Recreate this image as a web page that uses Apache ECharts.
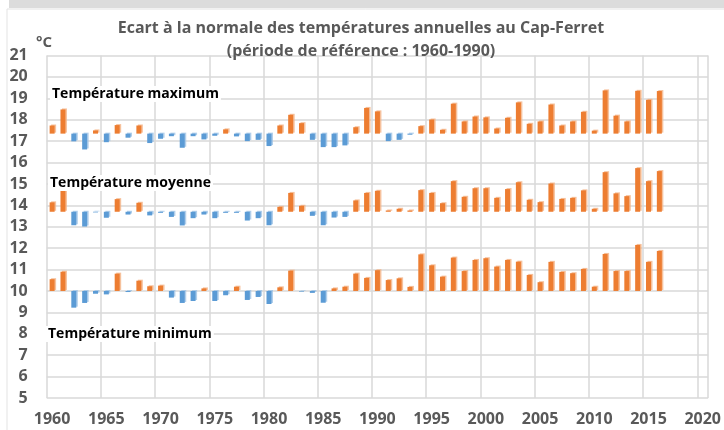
<!DOCTYPE html>
<html>
<head>
<meta charset="utf-8">
<script src="https://cdn.jsdelivr.net/npm/echarts@6/dist/echarts.min.js"></script>
<style>
html,body{margin:0;padding:0;background:#fff;}
#chart{width:724px;height:430px;}
</style>
</head>
<body>
<div id="chart"></div>
<script>
// axis categories: one band per year, 1960 to 2020
const years = [];
for (let y = 1960; y <= 2020; y++) years.push(String(y));

// annual temperatures (°C), 1960 to 2016
const tMax = [17.73,18.48,16.99,16.61,17.50,16.95,17.75,17.16,17.73,16.91,
              17.11,17.23,16.69,17.23,17.08,17.25,17.55,17.22,17.00,17.06,
              16.77,17.73,18.23,17.84,17.06,16.72,16.72,16.80,17.65,18.55,
              18.39,17.00,17.06,17.30,17.70,18.01,17.53,18.75,17.92,18.15,
              18.11,17.59,18.09,18.81,17.81,17.92,18.71,17.73,17.92,18.37,
              17.49,19.37,18.19,17.92,19.35,18.93,19.34];
const tMoy = [14.14,14.68,13.07,13.01,13.67,13.42,14.29,13.57,14.12,13.53,
              13.65,13.46,13.06,13.40,13.57,13.40,13.65,13.65,13.29,13.40,
              13.07,13.93,14.58,13.98,13.51,13.07,13.43,13.46,14.23,14.58,
              14.68,13.76,13.84,13.76,14.71,14.58,14.10,15.13,14.40,14.80,
              14.80,14.35,14.76,15.08,14.26,14.15,15.02,14.30,14.35,14.70,
              13.84,15.55,14.56,14.43,15.74,15.13,15.60];
const tMin = [10.55,10.90,9.22,9.44,9.87,9.84,10.81,9.95,10.48,10.22,
              10.25,9.69,9.44,9.53,10.12,9.53,9.80,10.20,9.58,9.72,
              9.39,10.17,10.95,9.97,9.91,9.45,10.12,10.20,10.81,10.61,
              10.97,10.51,10.59,10.19,11.71,11.20,10.67,11.56,10.93,11.45,
              11.53,11.14,11.45,11.37,10.75,10.41,11.36,10.89,10.83,11.03,
              10.20,11.73,10.93,10.93,12.15,11.36,11.87];
// reference normals (1960-1990)
const normalMax = 17.35, normalMoy = 13.70, normalMin = 10.00;

const ORANGE = '#ED7D31', BLUE = '#5B9BD5';
const FONT = 'Open Sans';

function buildSeries(name, values, normal) {
  const base = values.map(v => Math.min(v, normal));
  const delta = values.map(v => ({
    value: Math.abs(v - normal),
    itemStyle: {
      color: v >= normal ? ORANGE : BLUE,
      shadowColor: v >= normal ? 'rgba(244,177,131,0.8)' : 'rgba(157,195,230,0.8)',
      shadowOffsetX: 1.5, shadowOffsetY: -1, shadowBlur: 0
    }
  }));
  return [
    { name: name + '_base', type: 'bar', stack: name, data: base, barWidth: 5, barGap: '-100%',
      itemStyle: { color: 'rgba(0,0,0,0)' }, silent: true },
    { name: name, type: 'bar', stack: name, data: delta, barWidth: 5, barGap: '-100%' }
  ];
}

function seriesLabel(text, left, top) {
  return {
    type: 'text', left: left, top: top, z: 10,
    style: {
      text: text, fontFamily: FONT, fontWeight: 'bold', fontSize: 14, fill: '#000',
      backgroundColor: '#fff', padding: [1, 2, 1, 2]
    }
  };
}

const chart = echarts.init(document.getElementById('chart'), null, { renderer: 'canvas' });
chart.setOption({
  animation: false,
  backgroundColor: '#fff',
  textStyle: { fontFamily: FONT },
  title: {
    text: 'Ecart à la normale des températures annuelles au Cap-Ferret\n(période de référence : 1960-1990)',
    left: 356, top: 12, textAlign: 'center',
    textStyle: { fontFamily: FONT, fontWeight: 'bold', fontSize: 16, color: '#595959', lineHeight: 23 }
  },
  grid: { left: 46.7, right: 14, top: 55.5, bottom: 32, containLabel: false },
  xAxis: {
    type: 'category', data: years, boundaryGap: true,
    axisLine: { show: false }, axisTick: { show: false },
    splitLine: { show: true, interval: 4, lineStyle: { color: '#d9d9d9', width: 1.5 } },
    axisLabel: { interval: 4, margin: 13, fontFamily: FONT, fontWeight: 'bold', fontSize: 16, color: '#595959' }
  },
  yAxis: {
    type: 'value', min: 5, max: 21, interval: 1,
    axisLine: { show: false }, axisTick: { show: false },
    splitLine: { show: true, lineStyle: { color: '#d9d9d9', width: 1.5 } },
    axisLabel: { margin: 19, fontFamily: FONT, fontWeight: 'bold', fontSize: 16, color: '#595959' }
  },
  series: [].concat(
    buildSeries('max', tMax, normalMax),
    buildSeries('moy', tMoy, normalMoy),
    buildSeries('min', tMin, normalMin)
  ),
  graphic: [
    { type: 'rect', shape: { x: 9, y: 0, width: 715, height: 8 }, style: { fill: '#dcdcdc' }, silent: true },
    { type: 'line', shape: { x1: 7, y1: 9, x2: 724, y2: 9 }, style: { stroke: '#e3e3e3', lineWidth: 1 }, silent: true },
    { type: 'line', shape: { x1: 7, y1: 9, x2: 7, y2: 430 }, style: { stroke: '#e3e3e3', lineWidth: 1 }, silent: true },
    { type: 'text', left: 36, top: 35, style: { text: '°C', fontFamily: FONT, fontWeight: 'bold', fontSize: 15, fill: '#595959' } },
    seriesLabel('Température maximum', 50, 86),
    seriesLabel('Température moyenne', 48, 175),
    seriesLabel('Température minimum', 46, 326)
  ]
});
</script>
</body>
</html>
